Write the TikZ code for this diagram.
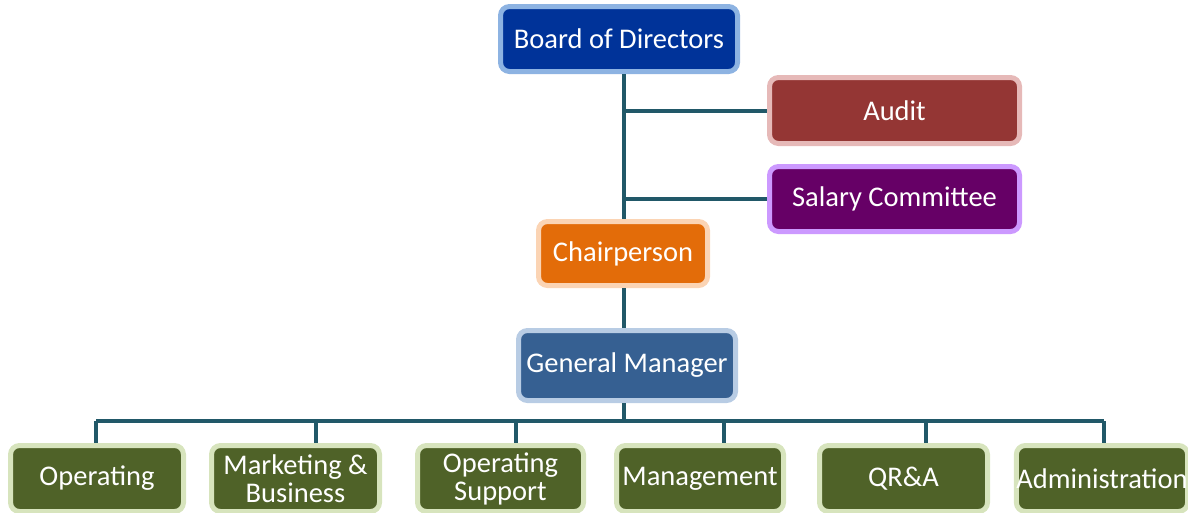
\documentclass[tikz,border=0pt]{standalone}
\usepackage{fontspec}
\setmainfont{Carlito}
\usetikzlibrary{positioning}
\definecolor{linkcol}{HTML}{215868}
\definecolor{boardfill}{HTML}{003399}
\definecolor{boardrim}{HTML}{8DB3E2}
\definecolor{auditfill}{HTML}{943634}
\definecolor{auditrim}{HTML}{E6B9B8}
\definecolor{salaryfill}{HTML}{660066}
\definecolor{salaryrim}{HTML}{CC99FF}
\definecolor{chairfill}{HTML}{E36C09}
\definecolor{chairrim}{HTML}{FBD4B4}
\definecolor{gmfill}{HTML}{366092}
\definecolor{gmrim}{HTML}{B8CCE4}
\definecolor{deptfill}{HTML}{4F6228}
\definecolor{deptrim}{HTML}{D7E4BD}

\begin{document}
\begin{tikzpicture}[x=1pt,y=-1pt,
	unit/.style={draw, line width=5pt, rounded corners=9pt, align=center, text=white, inner sep=0pt,
		font=\fontsize{28.5}{28}\selectfont},
	dept/.style={unit, fill=deptfill, draw=deptrim, minimum height=66pt},
	link/.style={draw=linkcol, line width=4pt}]
	\useasboundingbox (0,0) rectangle (1188,512);

	\node[unit, fill=boardfill, draw=boardrim, minimum width=237pt, minimum height=65pt] at (619, 39) (board) {Board of Directors};
	\node[unit, fill=auditfill, draw=auditrim, minimum width=250pt, minimum height=66pt] at (894.5, 110.5) (audit) {Audit};
	\node[unit, fill=salaryfill, draw=salaryrim, minimum width=250pt, minimum height=65pt] at (894.5, 199) (salary) {Salary Committee};
	\node[unit, fill=chairfill, draw=chairrim, minimum width=169pt, minimum height=64pt] at (623, 253.5) (chair) {Chairperson};
	\node[unit, fill=gmfill, draw=gmrim, minimum width=217pt, minimum height=70pt] at (627, 365.5) (gm) {General Manager};

	\node[dept, minimum width=173pt] at (97, 478.5)    (operating)  {Operating};
	\node[dept, minimum width=168pt] at (295.5, 478.5) (marketing)  {Marketing \&\\Business};
	\node[dept, minimum width=166pt] at (500.5, 478.5) (opsupport)  {Operating\\Support};
	\node[dept, minimum width=167pt] at (700, 478.5)   (management) {Management};
	\node[dept, minimum width=168pt] at (903.5, 478.5) (qra)        {QR\&A};
	\node[dept, minimum width=170pt] at (1102, 478.5)  (admin)      {Administration};

	\coordinate (bus) at (624, 421);

	% board, committees, chair
	\path[link]
		(board.south -| bus) -- (chair.north -| bus)
		(audit.west -| bus) -- (audit.west)
		(salary.west -| bus) -- (salary.west)
		(chair.south -| bus) -- (gm.north -| bus)
		(gm.south -| bus) -- (bus)
		;

	% departments
	\path[link]
		(96, 421) -- (1104, 421)
		(96, 421)   -- (operating.north -| 96, 0)
		(316, 421)  -- (marketing.north -| 316, 0)
		(516, 421)  -- (opsupport.north -| 516, 0)
		(724, 421)  -- (management.north -| 724, 0)
		(926, 421)  -- (qra.north -| 926, 0)
		(1104, 421) -- (admin.north -| 1104, 0)
		;
\end{tikzpicture}
\end{document}
